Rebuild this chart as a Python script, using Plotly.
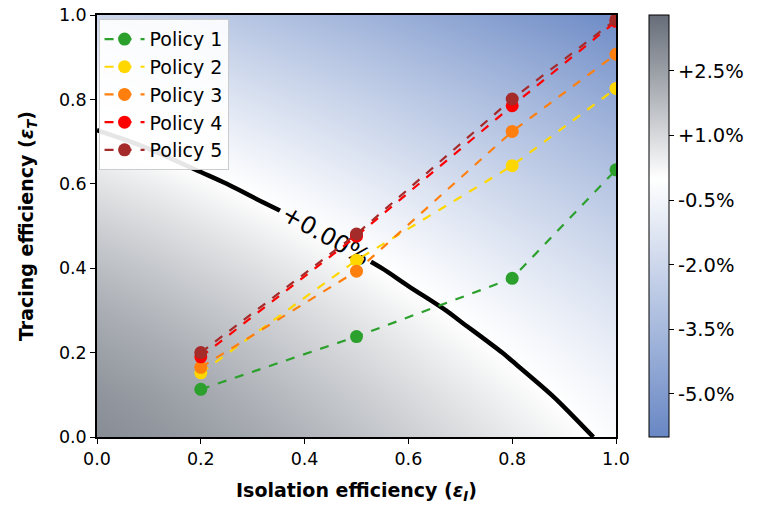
import numpy as np
import plotly.graph_objects as go

# Policy points
iso = [0.2, 0.5, 0.8, 1.0]
policy_names = ["Policy 1", "Policy 2", "Policy 3", "Policy 4", "Policy 5"]
policy_colors = ["#2ca02c", "#ffd700", "#ff7f0e", "#ff0000", "#a52a2a"]
p1 = [0.113, 0.238, 0.376, 0.633]
p2 = [0.152, 0.419, 0.643, 0.826]
p3 = [0.165, 0.393, 0.724, 0.907]
p4 = [0.190, 0.476, 0.785, 0.985]
p5 = [0.200, 0.481, 0.801, 0.989]
policies = [p1, p2, p3, p4, p5]

# background field (percent change), estimated on a 0.1 grid
grid_x = [0.0, 0.1, 0.2, 0.3, 0.4, 0.5, 0.6, 0.7, 0.8, 0.9, 1.0]
grid_y = [0.0, 0.1, 0.2, 0.3, 0.4, 0.5, 0.6, 0.7, 0.8, 0.9, 1.0]
field_pct = [
    [2.99, 2.77, 2.55, 2.27, 1.95, 1.62, 1.28, 0.93, 0.57, 0.22, -0.17],
    [2.77, 2.57, 2.29, 1.98, 1.66, 1.33, 0.99, 0.63, 0.28, -0.09, -0.50],
    [2.48, 2.25, 1.96, 1.65, 1.32, 0.99, 0.64, 0.29, -0.07, -0.48, -0.89],
    [2.13, 1.87, 1.58, 1.27, 0.94, 0.60, 0.26, -0.10, -0.51, -0.91, -1.33],
    [1.72, 1.46, 1.15, 0.84, 0.51, 0.18, -0.19, -0.59, -0.99, -1.40, -1.81],
    [1.25, 0.99, 0.69, 0.37, 0.04, -0.34, -0.73, -1.12, -1.53, -1.93, -2.35],
    [0.74, 0.48, 0.17, -0.17, -0.54, -0.92, -1.31, -1.71, -2.11, -2.52, -2.93],
    [0.18, -0.10, -0.44, -0.80, -1.17, -1.56, -1.95, -2.34, -2.75, -3.15, -3.57],
    [-0.48, -0.78, -1.12, -1.49, -1.86, -2.24, -2.63, -3.03, -3.43, -3.84, -4.25],
    [-1.22, -1.52, -1.86, -2.22, -2.59, -2.97, -3.36, -3.76, -4.16, -4.57, -4.98],
    [-2.00, -2.30, -2.64, -3.00, -3.38, -3.76, -4.15, -4.54, -4.95, -5.35, -5.77],
]
cbar_vals_pct = [2.5, 1.0, -0.5, -2.0, -3.5, -5.0]
cbar_text = ["+2.5%", "+1.0%", "-0.5%", "-2.0%", "-3.5%", "-5.0%"]
zmin_pct, zmax_pct = -6.0, 3.8

z = np.array(field_pct) / 100.0
mid = (0 - zmin_pct) / (zmax_pct - zmin_pct)

fig = go.Figure()
fig.add_trace(go.Heatmap(
    x=grid_x, y=grid_y, z=z, zsmooth="best",
    zmin=zmin_pct / 100, zmax=zmax_pct / 100, zauto=False,
    colorscale=[[0, "#6887c4"], [mid, "#ffffff"], [1, "#666d78"]],
    colorbar=dict(
        x=1.0636, xanchor="left", y=0.5, yanchor="middle",
        len=1.0, lenmode="fraction", thickness=20, ypad=0, xpad=0,
        outlinewidth=1, outlinecolor="black",
        tickvals=[v / 100 for v in cbar_vals_pct], ticktext=cbar_text,
        ticks="outside", ticklen=5, tickwidth=1, tickcolor="black",
        tickfont=dict(size=19.5, color="black", family="DejaVu Sans"),
    ),
    showlegend=False, hoverinfo="skip",
))
fig.add_trace(go.Contour(
    x=grid_x, y=grid_y, z=z,
    autocontour=False, showscale=False,
    contours=dict(start=0, end=0, size=1, coloring="none",
                  showlabels=True, labelformat="+.2%",
                  labelfont=dict(size=24, color="black", family="DejaVu Sans")),
    line=dict(color="black", width=4.5, smoothing=1),
    showlegend=False, hoverinfo="skip",
))

for name, col, vals in zip(policy_names, policy_colors, policies):
    fig.add_trace(go.Scatter(
        x=iso, y=vals, name=name, mode="lines+markers", legendgroup=name,
        line=dict(color=col, width=2.2, dash="dash"),
        marker=dict(color=col, size=13),
        cliponaxis=True,
    ))

axis_common = dict(
    range=[0, 1], tickvals=[0, 0.2, 0.4, 0.6, 0.8, 1.0], tickformat=".1f",
    showgrid=False, zeroline=False, showline=True, linecolor="black",
    linewidth=1.5, mirror=True, ticks="outside", ticklen=5, tickwidth=1.2,
    tickcolor="black", tickfont=dict(size=17.5, color="black", family="DejaVu Sans"),
    automargin=False,
)

fig.update_layout(
    width=769, height=508,
    margin=dict(l=97, r=153, t=15, b=71, autoexpand=False),
    paper_bgcolor="white", plot_bgcolor="white",
    font=dict(family="DejaVu Sans", color="black"),
    xaxis=dict(**axis_common,
               title=dict(text="<b>Isolation efficiency (<i>ε</i><sub><i>I</i></sub>)</b>",
                          font=dict(size=19), standoff=16)),
    yaxis=dict(**axis_common,
               title=dict(text="<b>Tracing efficiency (<i>ε</i><sub><i>T</i></sub>)</b>",
                          font=dict(size=19), standoff=20)),
    legend=dict(x=0.003, y=0.99, xanchor="left", yanchor="top",
                bgcolor="rgba(255,255,255,0.9)", bordercolor="#cccccc", borderwidth=1,
                font=dict(size=19, color="black"), tracegroupgap=0, itemwidth=40),
)

fig.write_html("out.html")
